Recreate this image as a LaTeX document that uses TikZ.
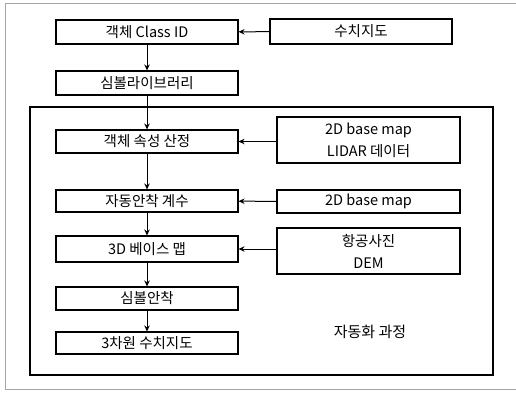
\documentclass[tikz,border=0pt]{standalone}
\usepackage{fontspec}
\setmainfont{Noto Sans CJK KR}
\usetikzlibrary{arrows.meta}
\begin{document}
\begin{tikzpicture}[x=1pt,y=-1pt,
  box/.style={draw,line width=1.1pt,inner sep=0pt,font=\fontsize{14.5}{17}\selectfont},
  arr/.style={line width=1pt,-{Stealth[length=6pt,width=5.5pt]}},
  frame/.style={line width=1.3pt}]
\useasboundingbox (0,0) rectangle (516,397);
% outer frame (open on the right)
\draw[gray!70,line width=0.8pt] (516,3) -- (5,3) -- (5,389) -- (516,389);
% inner frame
\draw[frame] (30,107) rectangle (493,375);
% left column
\node[box,minimum width=182pt,minimum height=24pt] (cls) at (147,32) {객체 Class ID};
\node[box,minimum width=182pt,minimum height=24pt] (sym) at (147,83) {심볼라이브러리};
\node[box,minimum width=182pt,minimum height=23pt] (attr) at (147,141.5) {객체 속성 산정};
\node[box,minimum width=182pt,minimum height=22pt] (coef) at (147,201) {자동안착 계수};
\node[box,minimum width=182pt,minimum height=26pt] (base) at (147,249) {3D 베이스 맵};
\node[box,minimum width=182pt,minimum height=23pt] (place) at (147,298.5) {심볼안착};
\node[box,minimum width=182pt,minimum height=22pt] (map3d) at (147,343) {3차원 수치지도};
% right column
\node[box,minimum width=182pt,minimum height=25pt] (dmap) at (361,31.5) {수치지도};
\node[box,minimum width=183pt,minimum height=46pt,align=center] (lidar) at (368.5,140) {2D base map\\[5pt]LIDAR 데이터};
\node[box,minimum width=183pt,minimum height=23pt] (bmap) at (368.5,201.5) {2D base map};
\node[box,minimum width=183pt,minimum height=46pt,align=center] (photo) at (368.5,251) {항공사진\\[5pt]DEM};
% label
\node[font=\fontsize{15}{17}\selectfont] (auto) at (370,332) {자동화 과정};
% vertical arrows
\draw[arr] (cls) -- (sym);
\draw[arr] (sym) -- (attr);
\draw[arr] (attr) -- (coef);
\draw[arr] (coef) -- (base);
\draw[arr] (base) -- (place);
\draw[arr] (place) -- (map3d);
% horizontal arrows
\draw[arr] (dmap) -- (cls);
\draw[arr] (lidar.west |- attr) -- (attr);
\draw[arr] (bmap) -- (coef);
\draw[arr] (photo.west |- base) -- (base);
\end{tikzpicture}
\end{document}
